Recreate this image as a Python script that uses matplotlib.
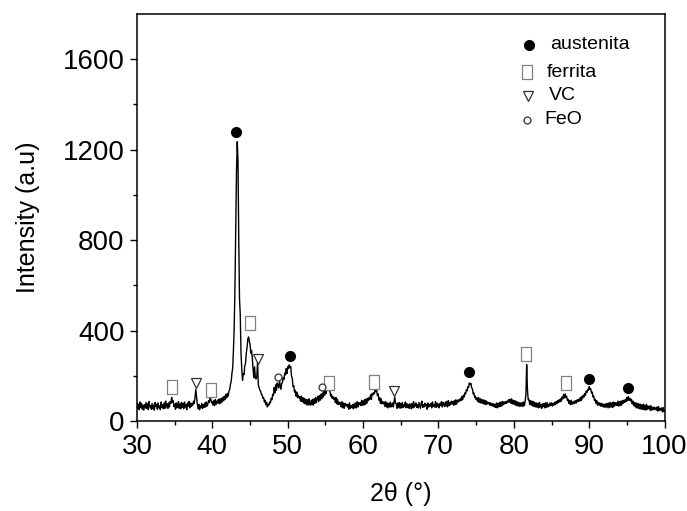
import numpy as np
import matplotlib
matplotlib.use("Agg")
import matplotlib.pyplot as plt
from matplotlib.path import Path

plt.rcParams['font.family'] = ['Liberation Sans', 'DejaVu Sans']

# 2-theta grid: 30.0 .. 100.0 in 0.1 degree steps
two_theta_start, two_theta_end, two_theta_step = 30.0, 100.0, 0.1

intensity = [
    80, 54, 74, 50, 84, 60, 78, 52, 70, 48,        # 30
    72, 58, 82, 56, 76, 50, 86, 62, 68, 52,        # 31
    78, 54, 70, 48, 82, 64, 74, 52, 80, 58,        # 32
    66, 50, 84, 60, 72, 54, 80, 56, 88, 62,        # 33
    76, 56, 80, 62, 86, 78, 104, 84, 90, 64,       # 34
    74, 52, 80, 58, 70, 86, 56, 76, 54, 82,        # 35
    60, 78, 54, 84, 62, 72, 50, 80, 66, 86,        # 36
    58, 80, 64, 76, 70, 88, 78, 104, 140, 106,     # 37
    76, 54, 74, 50, 68, 58, 78, 56, 72, 60,        # 38
    80, 62, 84, 66, 76, 90, 82, 104, 96, 80,       # 39
    86, 70, 92, 68, 94, 74, 88, 80, 96, 76,        # 40
    98, 78, 100, 84, 106, 90, 110, 96, 118, 102,   # 41
    122, 110, 132, 140, 162, 176, 212, 236, 318, 420,   # 42
    600, 850, 1100, 1235, 1150, 800, 540, 470, 300, 230,  # 43
    180, 210, 205, 245, 255, 300, 325, 362, 372, 352,   # 44
    340, 300, 312, 278, 228, 192, 240, 190, 186, 200,   # 45
    262, 158, 148, 136, 132, 118, 116, 100, 104, 84,    # 46
    92, 72, 82, 62, 74, 70, 84, 80, 100, 94,       # 47
    118, 112, 148, 124, 160, 136, 168, 158, 146, 178,   # 48
    160, 140, 166, 170, 192, 184, 212, 204, 232, 210,   # 49
    240, 232, 248, 236, 240, 198, 190, 152, 156, 128,   # 50
    136, 110, 128, 104, 114, 102, 108, 88, 110, 86,     # 51
    104, 80, 100, 76, 96, 72, 94, 70, 98, 76,      # 52
    70, 92, 72, 96, 70, 98, 78, 104, 82, 100,      # 53
    110, 86, 112, 92, 118, 98, 124, 106, 132, 114,      # 54
    138, 122, 146, 140, 142, 134, 132, 110, 118, 100,   # 55
    108, 96, 102, 82, 104, 76, 96, 72, 84, 74,     # 56
    82, 62, 86, 58, 80, 56, 78, 68, 74, 62,        # 57
    74, 52, 80, 56, 68, 60, 72, 54, 76, 58,        # 58
    80, 58, 86, 62, 82, 72, 80, 68, 92, 70,        # 59
    90, 70, 94, 74, 98, 78, 100, 90, 104, 96,      # 60
    116, 96, 122, 116, 126, 120, 140, 130, 136, 112,    # 61
    120, 92, 104, 78, 98, 76, 86, 76, 84, 64,      # 62
    86, 62, 80, 58, 78, 62, 84, 62, 72, 80,        # 63
    62, 84, 106, 78, 76, 56, 80, 60, 82, 56,       # 64
    78, 58, 82, 60, 72, 64, 84, 58, 78, 60,        # 65
    72, 56, 76, 68, 54, 78, 58, 86, 62, 72,        # 66
    80, 60, 72, 58, 82, 68, 56, 78, 88, 60,        # 67
    72, 62, 78, 66, 74, 52, 80, 62, 72, 66,        # 68
    78, 58, 84, 64, 72, 62, 86, 60, 80, 64,        # 69
    74, 58, 78, 70, 86, 62, 82, 74, 64, 84,        # 70
    66, 86, 62, 90, 68, 82, 72, 88, 76, 86,        # 71
    70, 90, 72, 94, 74, 92, 84, 94, 88, 100,       # 72
    90, 108, 94, 114, 106, 124, 120, 138, 134, 152,     # 73
    150, 168, 162, 166, 146, 144, 120, 124, 104, 110,   # 74
    94, 102, 86, 104, 82, 100, 80, 96, 78, 94,     # 75
    76, 92, 72, 90, 74, 84, 76, 82, 70, 80,        # 76
    68, 78, 66, 76, 62, 74, 60, 80, 58, 78,        # 77
    62, 82, 64, 84, 66, 86, 72, 84, 76, 86,        # 78
    78, 88, 82, 94, 84, 96, 78, 98, 76, 92,        # 79
    74, 90, 70, 88, 68, 84, 66, 82, 64, 80,        # 80
    66, 82, 64, 84, 68, 88, 118, 250, 140, 94,     # 81
    96, 74, 90, 70, 88, 66, 86, 64, 82, 62,        # 82
    80, 60, 78, 58, 82, 62, 72, 56, 76, 64,        # 83
    78, 58, 80, 60, 82, 62, 74, 66, 80, 68,        # 84
    80, 66, 78, 70, 82, 72, 86, 76, 90, 82,        # 85
    94, 84, 98, 88, 106, 98, 118, 102, 120, 104,   # 86
    110, 90, 96, 78, 90, 72, 92, 74, 84, 76,       # 87
    88, 78, 90, 80, 94, 86, 96, 88, 104, 90,       # 88
    108, 98, 114, 106, 122, 114, 132, 126, 140, 136,    # 89
    152, 140, 142, 124, 128, 106, 110, 90, 96, 78,      # 90
    90, 70, 82, 70, 80, 66, 78, 64, 76, 62,        # 91
    74, 60, 76, 62, 78, 58, 80, 60, 82, 62,        # 92
    80, 60, 84, 64, 82, 70, 80, 68, 88, 66,        # 93
    86, 68, 88, 70, 90, 78, 92, 82, 96, 86,        # 94
    104, 90, 108, 92, 100, 88, 96, 76, 88, 68,     # 95
    82, 62, 80, 58, 78, 56, 76, 54, 74, 52,        # 96
    72, 52, 74, 50, 70, 48, 72, 52, 66, 54,        # 97
    66, 46, 68, 48, 60, 50, 62, 52, 58, 48,        # 98
    62, 44, 64, 46, 56, 48, 58, 40, 60, 42,        # 99
    48,                                            # 100
]

# Phase identification markers (2theta, height)
austenita_x = [43.2, 50.3, 74.0, 90.0, 95.1]
austenita_y = [1277, 289, 215, 186, 148]
ferrita_x = [34.6, 39.8, 44.95, 55.5, 61.5, 81.6, 86.9]
ferrita_y = [149, 137, 432, 169, 172, 296, 168]
vc_x = [37.8, 46.0, 64.1]
vc_y = [169, 273, 134]
feo_x = [48.7, 54.6]
feo_y = [196, 149]

legend_labels = ["austenita", "ferrita", "VC", "FeO"]

x_ticks = [30, 40, 50, 60, 70, 80, 90, 100]
y_ticks = [0, 400, 800, 1200, 1600]

two_theta = np.round(np.arange(two_theta_start, two_theta_end + two_theta_step / 2, two_theta_step), 2)

fig = plt.figure(figsize=(6.87, 5.11), dpi=100)
ax = fig.add_axes([137 / 687, 1 - 421 / 511, 527.6 / 687, 407 / 511])

ax.plot(two_theta, intensity, color='black', lw=1.0)

rect = Path([(-0.38, -0.5), (0.38, -0.5), (0.38, 0.5), (-0.38, 0.5), (-0.38, -0.5)],
            [Path.MOVETO, Path.LINETO, Path.LINETO, Path.LINETO, Path.CLOSEPOLY])

sty_a = dict(marker='o', ls='none', ms=7, mfc='black', mec='black')
sty_f = dict(marker=rect, ls='none', ms=10, mfc='white', mec='#808080', mew=0.9)
sty_v = dict(marker='v', ls='none', ms=7.5, mfc='white', mec='#303030', mew=0.9)
sty_o = dict(marker='o', ls='none', ms=5, mfc='white', mec='#303030', mew=0.9)

ax.plot(austenita_x, austenita_y, **sty_a)
ax.plot(ferrita_x, ferrita_y, **sty_f)
ax.plot(vc_x, vc_y, **sty_v)
ax.plot(feo_x, feo_y, **sty_o)

# legend as text block
leg_mx = [0.743, 0.739, 0.741, 0.739]
leg_my = [0.924, 0.857, 0.799, 0.740]
leg_tx = [0.783, 0.777, 0.781, 0.773]
for sty, mx, my, tx, lab in zip([sty_a, sty_f, sty_v, sty_o], leg_mx, leg_my, leg_tx, legend_labels):
    ax.plot([mx], [my], transform=ax.transAxes, clip_on=False, **sty)
    ax.text(tx, my, lab, transform=ax.transAxes, fontsize=14, va='center', ha='left')

ax.set_xlim(30, 100)
ax.set_ylim(0, 1800)
ax.set_xticks(x_ticks)
ax.set_yticks(y_ticks)
ax.set_xticks(np.arange(35, 100, 10), minor=True)
ax.set_yticks(np.arange(200, 1800, 400), minor=True)
ax.tick_params(which='major', direction='out', length=5, width=1, labelsize=20, pad=4)
ax.tick_params(which='minor', direction='out', length=3, width=1)
for s in ax.spines.values():
    s.set_linewidth(1.1)

ax.set_xlabel("2θ (°)", fontsize=18, labelpad=16)
ax.set_ylabel("Intensity (a.u)", fontsize=18, labelpad=16)

fig.savefig("out.png", dpi=100)
